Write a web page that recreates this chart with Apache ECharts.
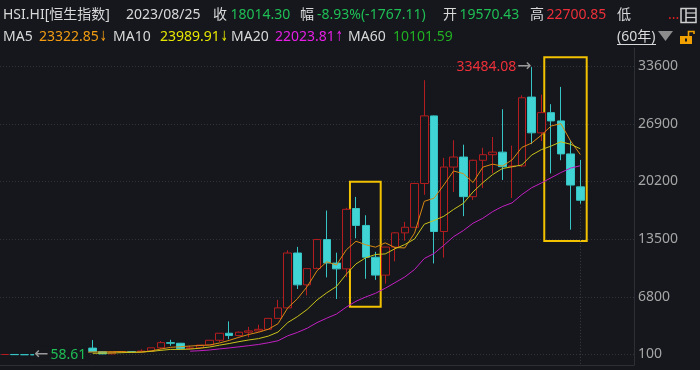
<!DOCTYPE html>
<html><head><meta charset="utf-8">
<script src="https://cdn.jsdelivr.net/npm/echarts@6/dist/echarts.min.js"></script>
<style>html,body{margin:0;padding:0;background:#15171c;}#c{width:700px;height:370px;}</style>
</head><body><div id="c"></div>
<script>
// ---------- data (annual candles, 恒生指数) ----------
const years = [1964,1965,1966,1967,1968,1969,1970,1971,1972,1973,1974,1975,1976,1977,1978,1979,1980,1981,1982,1983,1984,1985,1986,1987,1988,1989,1990,1991,1992,1993,1994,1995,1996,1997,1998,1999,2000,2001,2002,2003,2004,2005,2006,2007,2008,2009,2010,2011,2012,2013,2014,2015,2016,2017,2018,2019,2020,2021,2022,2023];
const opens = [100,101.45,82.72,76.06,66.94,107.55,155.49,211.91,341.36,843.40,433.68,171.11,350.00,447.67,404.02,495.50,879.38,1477,1405.82,783.82,874.94,1200.38,1752.45,2568.30,2302.75,2687.44,2836.57,3024.55,4297.33,5512.39,11888.39,8191.04,10073.39,13451.45,10722.76,10048.58,17057,15089,11397,9321,12575.94,14230,14876,19964.72,27812.65,14387.48,21872.50,23035.45,18434.39,22656.92,23306.39,23605,21914.40,22000.56,30000,25845.70,28189.75,27231.13,23397.67,19570.43];
const closes = [101.45,82.72,76.06,66.94,107.55,155.49,211.91,341.36,843.40,433.68,171.11,350.00,447.67,404.02,495.50,879.38,1473.59,1405.82,783.82,874.94,1200.38,1752.45,2568.30,2302.75,2687.44,2836.57,3024.55,4297.33,5512.39,11888.39,8191.04,10073.39,13451.45,10722.76,10048.58,16962.10,15095.53,11397.21,9321.29,12575.94,14230.14,14876.43,19964.72,27812.65,14387.48,21872.50,23035.45,18434.39,22656.92,23306.39,23605.04,21914.40,22000.56,29919.15,25845.70,28189.75,27231.13,23397.67,19781.41,18014.30];
const lows = [97,78,74,58.61,64,107,136,201,326,400.2,150.11,160.4,354,383,383,493,738,1113,676,690,746,1220,1559,1876,2223,2093,2736,2984,4301,5437,7707,6967,10204,9059,6544,9076,13597,8894,8772,8331,10917,13320,14844,18659,10676,11344,18971,16170,18056,19426,21138,20368,18279,21884,24540,24896,21139,22665,14597,17600];
const highs = [104,102,85,80,108,160,212,406,843.4,1774.96,481.93,352.9,465,452,707,879,1654,1810,1445,1102,1201,1762,2568,3949,2772,3309,3559,4297,6447,12201,12599,10073,13530,16820,11926,17138,18398,16274,12021,12594,14339,15508,20049,31958,27853,22944,24989,24468,22719,24111,25362,28588,24364,30200,33484.08,30280,29174,31183,24966,22700.85];
const ma5 = [null,null,null,null,86.94,97.75,123.59,176.65,331.94,397.17,400.29,427.91,449.17,361.30,373.66,515.31,740.03,931.66,1007.62,1083.51,1147.71,1203.48,1435.98,1739.76,2102.26,2429.50,2683.92,3029.73,3671.66,5511.85,6582.74,7992.51,9823.33,10865.41,10497.44,12251.66,13256.08,12845.24,12564.94,13070.41,12524.02,12480.20,14193.70,17891.98,18254.28,19782.76,21414.56,21108.49,20077.35,21861.13,22207.64,21983.43,22696.66,24149.11,24656.97,25573.91,26637.26,26916.68,24889.13,23322.85];
const ma10 = [null,null,null,null,null,null,null,null,null,242.06,249.02,275.75,312.91,346.62,385.41,457.80,583.97,690.42,684.46,728.59,831.51,971.76,1183.82,1373.69,1592.89,1788.61,1943.70,2232.85,2705.71,3807.06,4506.12,5338.22,6426.53,7268.53,8004.65,9417.20,10624.30,11334.28,11715.17,11783.93,12387.84,12868.14,13519.47,15228.46,15662.35,16153.39,16947.38,17651.10,18984.66,20057.71,20995.20,21698.99,21902.58,22113.23,23259.05,23890.78,24310.34,24806.67,24519.12,23989.91];
const ma20 = [null,null,null,null,null,null,null,null,null,null,null,null,null,null,null,null,null,null,null,485.32,540.27,623.75,748.37,860.16,989.15,1123.20,1263.84,1461.64,1695.08,2267.82,2668.82,3154.99,3805.18,4321.11,4798.77,5602.90,6284.00,6783.57,7210.44,7795.49,8446.98,9103.18,9973.00,11248.50,11833.50,12785.29,13785.84,14492.69,15349.92,15920.82,16691.52,17283.57,17711.02,18670.84,19460.70,20022.08,20628.86,21228.89,21751.89,22023.81];
const ma60Last = 10101.59;
const yTickValues = [100,6800,13500,20200,26900,33600];
const lastDate = '2023/08/25';
// highlighted periods: [fromYear, toYear, upperValue, lowerValue]
const highlightRanges = [[1999.38,2002.53,20170,5650],[2019.30,2023.65,34620,13280]];

// ---------- styles ----------
const BG = '#15171c';
const FONT = "'Noto Sans','Noto Sans CJK SC',sans-serif";
const WHITE = '#d9d9d9', GREEN = '#1fbf55', RED = '#ee2f3a', ORANGE = '#f39c12', YELLOW = '#e6e600', MAGENTA = '#e61ee6', GRAY = '#9a9a9a';
const UP = '#b31d1f', DOWN = '#40d4d4';

const n = years.length;
const candleData = years.map((y, i) => [y, opens[i], closes[i], lows[i], highs[i]]);
const lineData = arr => years.map((y, i) => [y, arr[i]]).filter(d => d[1] != null);

let minI = 0, maxI = 0;
lows.forEach((v, i) => { if (v < lows[minI]) minI = i; });
highs.forEach((v, i) => { if (v > highs[maxI]) maxI = i; });

const last = n - 1;
const chg = closes[last] - closes[last - 1];
const pct = chg / closes[last - 1] * 100;
const isUp = a => a[last] >= a[last - 1];

const mctx = document.createElement('canvas').getContext('2d');
mctx.font = '14px ' + FONT;
const tw = s => mctx.measureText(s).width;

const txt = (x, y, text, fill, extra) => ({
  type: 'text', x: x, y: y, silent: true,
  style: Object.assign({ text: text, fill: fill, font: '14px ' + FONT, verticalAlign: 'middle' }, extra || {})
});
const valArrow = (x, y, value, up, fill) => {
  const s = value.toFixed(2);
  return [
    txt(x, y, s, fill),
    { type: 'text', x: x + tw(s) + 1, y: y + 0.5, scaleX: 0.62, silent: true,
      style: { text: up ? '↑' : '↓', fill: fill, font: '14px DejaVu Sans', verticalAlign: 'middle' } }
  ];
};

const header = [
  txt(3, 15, 'HSI.HI[恒生指数]', WHITE),
  txt(126, 15, lastDate, WHITE),
  txt(213, 15, '收', WHITE), txt(230.5, 15, closes[last].toFixed(2), GREEN),
  txt(300, 15, '幅', WHITE), txt(317, 15, pct.toFixed(2) + '%(' + chg.toFixed(2) + ')', GREEN),
  txt(443, 15, '开', WHITE), txt(459.5, 15, opens[last].toFixed(2), GREEN),
  txt(530, 15, '高', WHITE), txt(546.5, 15, highs[last].toFixed(2), RED),
  txt(617, 15, '低', WHITE),
  txt(668, 15, '...', '#e02020'),
  txt(3, 37, 'MA5', WHITE), ...valArrow(39, 37, ma5[last], isUp(ma5), ORANGE),
  txt(113, 37, 'MA10', WHITE), ...valArrow(160, 37, ma10[last], isUp(ma10), YELLOW),
  txt(231, 37, 'MA20', WHITE), ...valArrow(275, 37, ma20[last], isUp(ma20), MAGENTA),
  txt(348, 37, 'MA60', WHITE), txt(393, 37, ma60Last.toFixed(2), '#22b022'),
  txt(617, 37, '(60年)', WHITE),
  { type: 'line', silent: true, shape: { x1: 617, y1: 44.5, x2: 656, y2: 44.5 }, style: { stroke: WHITE, lineWidth: 1 } },
  { type: 'polygon', silent: true, shape: { points: [[658, 31], [673, 31], [665.5, 41]] }, style: { fill: '#8c8c8c' } },
  // lock icon
  { type: 'rect', silent: true, shape: { x: 680, y: 36, width: 12, height: 8 }, style: { fill: '#f0a000' } },
  { type: 'rect', silent: true, shape: { x: 685, y: 38.5, width: 2, height: 3 }, style: { fill: BG } },
  { type: 'polyline', silent: true, shape: { points: [[688.5, 36], [688.5, 31.5], [694, 31.5], [694, 34]] }, style: { stroke: '#f0a000', lineWidth: 1.6, fill: null } },
  // layout icon
  { type: 'rect', silent: true, shape: { x: 681, y: 8.5, width: 15, height: 14 }, style: { stroke: '#cfcfcf', lineWidth: 1.5, fill: null } },
  { type: 'line', silent: true, shape: { x1: 686, y1: 8.5, x2: 686, y2: 22.5 }, style: { stroke: '#cfcfcf', lineWidth: 1.5 } },
  { type: 'line', silent: true, shape: { x1: 686, y1: 13, x2: 696, y2: 13 }, style: { stroke: '#cfcfcf', lineWidth: 1.2 } },
  { type: 'line', silent: true, shape: { x1: 686, y1: 17.5, x2: 696, y2: 17.5 }, style: { stroke: '#cfcfcf', lineWidth: 1.2 } }
];

const chart = echarts.init(document.getElementById('c'), null, { renderer: 'canvas' });
chart.setOption({
  backgroundColor: BG,
  animation: false,
  textStyle: { fontFamily: FONT },
  grid: { left: 0, right: 66, top: 48, bottom: 5, containLabel: false },
  xAxis: {
    type: 'value', min: 1963.5, max: 2028.5,
    axisLine: { show: true, onZero: false, lineStyle: { color: '#2c2f36', width: 1 } },
    axisTick: { show: false }, axisLabel: { show: false }, splitLine: { show: false }
  },
  yAxis: {
    type: 'value', position: 'right', min: -1120, max: 35700, scale: false,
    axisLine: { show: true, onZero: false, lineStyle: { color: '#2c2f36', width: 1 } },
    axisTick: { show: false, customValues: yTickValues },
    axisLabel: { color: '#a6a6a6', fontSize: 14, margin: 4, fontFamily: FONT, customValues: yTickValues, formatter: v => String(v) },
    splitLine: { show: true, lineStyle: { color: '#30333a', type: [1, 2], width: 1 } }
  },
  graphic: header,
  series: [
    {
      type: 'candlestick', name: 'K', data: candleData, barWidth: 8,
      itemStyle: { color: BG, color0: DOWN, borderColor: UP, borderColor0: '#36c4c4', borderWidth: 1 },
      markArea: {
        silent: true,
        itemStyle: { color: 'rgba(0,0,0,0)', borderColor: '#f2c200', borderWidth: 2 },
        label: { show: false },
        data: highlightRanges.map(r => [{ xAxis: r[0], yAxis: r[2] }, { xAxis: r[1], yAxis: r[3] }])
      },
      markLine: {
        silent: true, symbol: ['none', 'none'], animation: false,
        label: { show: false },
        lineStyle: { color: '#3a3e46', type: [1, 2], width: 1 },
        data: [[{ coord: [years[last], lows[last]] }, { coord: [years[last], -1120] }]]
      },
      markPoint: {
        silent: true, symbol: 'circle', symbolSize: 0,
        data: [
          {
            coord: [years[minI], lows[minI]], value: lows[minI],
            label: {
              show: true, position: 'right', distance: 0,
              backgroundColor: BG, padding: [0, 2, 0, 0],
              formatter: '{a|←}{b|' + lows[minI].toFixed(2) + '}',
              rich: { a: { color: GRAY, fontSize: 17, fontFamily: 'DejaVu Sans' }, b: { color: GREEN, fontSize: 14, fontFamily: FONT, padding: [0, 0, 0, 2] } }
            }
          },
          {
            coord: [years[maxI], highs[maxI]], value: highs[maxI],
            label: {
              show: true, position: 'left', distance: 0,
              formatter: '{b|' + highs[maxI].toFixed(2) + '}{a|→}',
              rich: { a: { color: GRAY, fontSize: 17, fontFamily: 'DejaVu Sans' }, b: { color: RED, fontSize: 14, fontFamily: FONT, padding: [0, 1, 0, 0] } }
            }
          }
        ]
      }
    },
    { type: 'line', name: 'MA5', data: lineData(ma5), showSymbol: false, symbol: 'none', lineStyle: { color: '#d98a12', width: 1 }, z: 3 },
    { type: 'line', name: 'MA10', data: lineData(ma10), showSymbol: false, symbol: 'none', lineStyle: { color: '#c9c21a', width: 1 }, z: 3 },
    { type: 'line', name: 'MA20', data: lineData(ma20), showSymbol: false, symbol: 'none', lineStyle: { color: '#c21fc2', width: 1 }, z: 3 }
  ]
});
</script></body></html>
